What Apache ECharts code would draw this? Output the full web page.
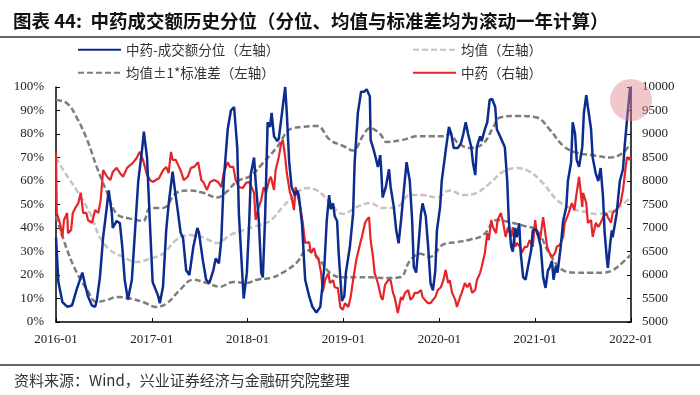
<!DOCTYPE html>
<html><head><meta charset="utf-8">
<script src="https://cdn.jsdelivr.net/npm/echarts@6/dist/echarts.min.js"></script>
<style>html,body{margin:0;padding:0;background:#fff}#c{width:700px;height:395px}</style>
</head><body><div id="c"></div>
<script>
// x values are months since 2016-01
const xTickLabels = ['2016-01','2017-01','2018-01','2019-01','2020-01','2021-01','2022-01'];
const seriesNames = ['中药-成交额分位（左轴）','均值（左轴）','均值±1*标准差（左轴）','中药（右轴）'];

const pctData = [[0,36],[0.3,17],[0.8,8.5],[1.4,6.5],[2.0,7],[2.6,14],[3.3,21],[3.6,16.5],[4.0,11],[4.5,7],[4.9,6.5],[5.1,9],[5.5,19],[5.9,36],[6.4,50],[6.6,56],[7.0,46],[7.1,40],[7.6,43],[8.0,42],[8.3,32],[8.6,18],[9.0,9.5],[9.5,18],[9.9,39],[10.3,60],[10.8,74],[11.0,81],[11.4,70],[11.8,39],[12.1,17],[12.8,11],[13.0,8],[13.4,15],[13.8,39],[14.1,50],[14.6,64],[14.9,56],[15.3,46],[15.6,38],[15.9,36],[16.3,22],[16.7,20],[17.2,32],[17.7,40],[17.9,38],[18.4,26],[18.8,18],[19.2,16.5],[19.7,22],[20.0,27],[20.4,25],[20.7,35],[21.0,60],[21.5,82],[21.9,90],[22.3,91.5],[22.7,74],[22.9,46],[23.5,10],[23.9,21],[24.2,43],[24.4,63],[24.8,70],[25.0,60],[25.4,43],[25.7,21],[25.9,19],[26.2,46],[26.5,85],[26.8,83],[27.0,89],[27.3,79],[27.7,77],[27.9,78],[28.3,89],[28.7,100],[28.9,89],[29.2,68],[29.5,57.5],[29.9,54],[30.2,56],[30.4,54],[30.8,42],[31.2,18],[31.7,11],[32.1,6.5],[32.6,4],[33.1,6.5],[33.6,23.5],[33.9,43],[34.2,54],[34.4,48],[34.7,50.5],[34.9,45],[35.2,43],[35.4,29],[35.8,9],[36.1,11],[36.3,21],[36.8,32],[37.2,46],[37.4,68],[37.8,89],[38.2,98],[38.6,98],[38.9,99],[39.3,96],[39.4,77.5],[39.8,73],[40.1,69],[40.3,66],[40.6,71],[40.7,66],[40.9,53],[41.3,57.5],[41.7,65],[41.9,57.5],[42.3,49],[42.6,39],[42.9,33.5],[43.2,43],[43.6,57.5],[43.9,68],[44.3,60],[44.6,43],[44.8,23.5],[45.1,21],[45.3,29],[45.7,46],[45.9,50.5],[46.3,45],[46.6,32],[46.9,16.5],[47.2,13.5],[47.5,22],[47.7,39],[48.1,49],[48.3,60],[48.8,73],[49.2,83],[49.5,80],[49.8,74],[50.3,74],[50.7,76],[51.0,80],[51.3,85],[51.6,80],[52.0,74.5],[52.2,68],[52.5,62.5],[52.7,74.5],[53.1,79],[53.3,77],[53.7,82],[54.0,85],[54.3,94.5],[54.6,95],[55.0,91.5],[55.2,82],[55.6,79],[55.8,77.5],[56.2,74.5],[56.5,60],[56.7,43],[57.0,32],[57.2,30],[57.5,40],[57.7,36],[58.0,42],[58.2,29],[58.5,19],[58.8,18],[59.1,23.5],[59.5,30.5],[59.7,39],[60.1,39.5],[60.3,38],[60.7,32],[61.0,19],[61.3,14.5],[61.6,22],[61.8,23],[62.1,26],[62.3,18],[62.6,24],[62.8,21],[63.2,32],[63.5,43],[63.9,49],[64.1,60],[64.5,68],[64.7,85],[65.0,80],[65.2,69],[65.5,66],[65.9,74.5],[66.1,89],[66.4,96.5],[66.6,91.5],[67.0,82],[67.2,70],[67.6,63],[67.9,60],[68.2,65.5],[68.5,53],[68.7,38],[69.0,26],[69.1,23],[69.4,33.5],[69.6,39],[69.7,36],[70.0,42],[70.2,46],[70.6,60],[71.0,65],[71.2,74.5],[71.5,86],[71.9,100]];

const meanData = [[0,70],[0.9,64.7],[2.6,56],[4.3,46],[5.5,36],[6.8,30.6],[8.4,27.7],[10.1,25.5],[11.8,27],[13.4,29],[15.1,35],[16.8,37],[18.4,36],[20.2,33.6],[21.8,37],[23.4,39],[25.2,41],[26.8,43],[28.4,49],[30.2,55],[31.4,57],[32.7,56],[34.3,51],[35.9,46],[37.7,49],[39.3,50.6],[40.9,48.5],[42.7,49],[44.3,54],[45.9,54],[47.7,53],[49.3,56],[51.0,54],[52.7,55],[54.3,59],[56.0,64],[57.7,65.5],[59.3,64],[61.0,59],[62.7,52],[64.4,48.5],[66.0,47],[67.7,46],[69.4,47],[70.6,49],[71.9,53]];

const upperData = [[0,94.5],[1.4,93],[2.6,87],[3.9,77.5],[5.1,66],[6.4,55],[7.6,46],[9.3,44],[10.9,43],[11.8,48.5],[13.4,48.5],[15.1,55],[16.8,56],[18.4,55],[20.2,53],[21.4,55.5],[22.7,60],[24.3,62],[25.9,67.6],[27.7,74.5],[29.3,82],[30.9,83],[32.7,83.4],[34.3,77.5],[35.9,75],[37.2,73],[38.4,79],[39.3,82.5],[40.6,80],[41.4,76.6],[43.4,77.5],[45.2,79],[46.8,79],[48.5,79],[49.3,80],[50.2,76.6],[51.8,74],[53.5,76],[54.7,82.5],[55.6,87],[57.7,87.7],[60.2,87],[61.8,82],[63.5,75],[65.2,72],[67.2,71],[69.4,70],[71.0,72],[71.9,76]];

const lowerData = [[0,45],[1.4,30.6],[2.6,21],[3.9,13.6],[5.1,8.5],[6.4,9.4],[7.6,10.6],[9.3,10],[10.9,8.5],[12.6,6.4],[13.9,8],[15.5,13.6],[17.2,18],[18.9,16.6],[20.5,15],[22.2,17],[23.9,16.6],[25.2,18],[26.8,18.7],[28.4,21],[30.2,25.5],[31.4,30.6],[32.7,27.7],[34.3,21],[35.9,19],[37.7,19],[39.3,19],[41.4,18.7],[43.1,19],[44.3,26],[45.6,29],[46.8,27.7],[48.5,33],[50.2,34],[51.8,35],[53.5,37],[55.2,43.4],[56.8,42.5],[58.5,41],[60.2,39],[61.8,29],[63.5,22],[65.2,21],[66.9,21],[68.5,21],[69.7,22],[71.0,25.5],[71.9,28.5]];

const priceData = [[0,8600],[0.1,7320],[0.5,7100],[0.8,6810],[1.0,7170],[1.4,7320],[1.5,6890],[1.9,6960],[2.1,7320],[2.5,7450],[2.8,7530],[3.1,7750],[3.4,7320],[3.8,7320],[4.0,7170],[4.5,7110],[4.9,7380],[5.3,7320],[5.6,7600],[5.9,8230],[6.4,8090],[6.8,8020],[7.1,8190],[7.6,8280],[8.0,8170],[8.4,8090],[8.9,8280],[9.3,8340],[9.6,8380],[10.1,8490],[10.5,8620],[10.9,8450],[11.4,8130],[11.8,8020],[12.1,7980],[12.5,8020],[12.9,8060],[13.4,8230],[13.8,8300],[14.1,8170],[14.4,8620],[14.6,8450],[15.0,8450],[15.4,8300],[15.6,8230],[16.0,8020],[16.5,8090],[16.9,8280],[17.3,8300],[17.8,8400],[18.2,8020],[18.5,7960],[18.9,7810],[19.3,7980],[19.8,8020],[20.3,7980],[20.7,7870],[21.0,8170],[21.5,8400],[21.8,8300],[22.2,8300],[22.5,8020],[22.9,7870],[23.4,7850],[23.8,7960],[24.2,7980],[24.4,8020],[24.8,7750],[25.0,7170],[25.4,7450],[25.7,7600],[26.0,7870],[26.3,7750],[26.7,8020],[26.9,8090],[27.3,7810],[27.5,8230],[27.9,8510],[28.2,8810],[28.4,8870],[28.7,8510],[28.9,8170],[29.3,7750],[29.5,7660],[29.8,7380],[30.0,7870],[30.3,7660],[30.5,7530],[30.9,7110],[31.2,6680],[31.7,6700],[31.9,6470],[32.3,6570],[32.6,6380],[32.9,6320],[33.2,6040],[33.4,5640],[33.7,5890],[34.1,6040],[34.3,5830],[34.7,5890],[34.9,5740],[35.3,5720],[35.6,5320],[35.9,5260],[36.2,5400],[36.6,5320],[36.9,5530],[37.2,5890],[37.6,6320],[38.1,6680],[38.3,6810],[38.7,7110],[38.9,7170],[39.2,7230],[39.4,6740],[39.7,6380],[39.9,6040],[40.3,5830],[40.7,5530],[40.9,5470],[41.2,5790],[41.6,5890],[41.9,5890],[42.2,5620],[42.4,5530],[42.8,5190],[43.2,5530],[43.4,5470],[43.7,5620],[44.1,5680],[44.4,5470],[44.7,5530],[44.9,5620],[45.3,5620],[45.7,5680],[45.9,5530],[46.2,5470],[46.6,5400],[46.9,5400],[47.2,5470],[47.5,5530],[47.8,5680],[48.2,5740],[48.5,5890],[48.8,6110],[49.1,5830],[49.3,5890],[49.6,5620],[50.0,5470],[50.2,5320],[50.6,5530],[50.8,5620],[51.2,5830],[51.5,5740],[51.8,5830],[52.1,5620],[52.5,5680],[52.7,5890],[53.1,6040],[53.3,6170],[53.7,6470],[54.0,6890],[54.2,6740],[54.5,7170],[54.7,7020],[55.1,6890],[55.3,7170],[55.7,7320],[56.0,7110],[56.3,6810],[56.6,7020],[57.0,6810],[57.2,7020],[57.5,6600],[57.7,6680],[58.1,6600],[58.3,6470],[58.7,6600],[59.0,6600],[59.3,6740],[59.7,6600],[60.0,7170],[60.2,6890],[60.6,6740],[61.0,7230],[61.2,7230],[61.5,6600],[61.8,6470],[62.1,6380],[62.5,6470],[62.7,6600],[63.1,6640],[63.5,6810],[63.7,7110],[64.0,7230],[64.2,7320],[64.6,7530],[64.9,7380],[65.2,7750],[65.5,8090],[65.9,7450],[66.0,7750],[66.4,7530],[66.6,7110],[67.0,7170],[67.2,6810],[67.6,7110],[67.9,7020],[68.2,7110],[68.5,7230],[68.9,7320],[69.1,7230],[69.5,7110],[69.7,7320],[70.1,7380],[70.4,7450],[70.7,7530],[71.0,7810],[71.4,8380],[71.5,8510],[71.8,8450],[72.0,8510]];

const chart = echarts.init(document.getElementById('c'), null, {renderer:'canvas'});
const serif = '"Liberation Serif","DejaVu Serif",serif';
const cjk = '"Noto Sans CJK SC","Noto Sans",sans-serif';
const axisLabelStyle = {color:'#222', fontFamily:serif, fontSize:13};
const legendText = {color:'#333', fontFamily:cjk, fontSize:13.5};
const C = {blue:'#0c2d8e', light:'#c4c4c4', dark:'#7d7d7d', red:'#e4262a'};
const mk = (i,l,t)=>({data:[seriesNames[i]], left:l, top:t, itemWidth:43, itemHeight:12,
  textStyle:legendText, padding:0, itemGap:4, itemStyle:{opacity:0}});

chart.setOption({
  animation:false,
  title:{text:'图表 44:  中药成交额历史分位（分位、均值与标准差均为滚动一年计算）', left:8, top:7,
    textStyle:{fontFamily:cjk, fontSize:18.5, fontWeight:'bold', color:'#111'}},
  legend:[mk(0,77,43), mk(1,412,43), mk(2,77,66), mk(3,412,66)],
  grid:{left:56, right:69, top:87, bottom:73},
  xAxis:{type:'value', min:0, max:72, interval:12,
    axisLine:{lineStyle:{color:'#000', width:1.5}},
    axisTick:{inside:true, length:4, lineStyle:{color:'#000'}},
    splitLine:{show:false},
    axisLabel:Object.assign({margin:11, formatter:v=>xTickLabels[Math.round(v/12)]}, axisLabelStyle)},
  yAxis:[
    {type:'value', min:0, max:100, interval:10, position:'left',
     axisLine:{show:true, lineStyle:{color:'#000', width:1.5}},
     axisTick:{show:true, inside:true, length:4, lineStyle:{color:'#000'}},
     splitLine:{show:false},
     axisLabel:Object.assign({formatter:'{value}%', margin:12}, axisLabelStyle)},
    {type:'value', min:5000, max:10000, interval:500, position:'right',
     axisLine:{show:true, lineStyle:{color:'#000', width:1.5}},
     axisTick:{show:true, inside:true, length:4, lineStyle:{color:'#000'}},
     splitLine:{show:false},
     axisLabel:Object.assign({margin:11, formatter:v=>String(v)}, axisLabelStyle)}
  ],
  series:[
    {name:seriesNames[2], type:'line', data:upperData, symbol:'none', smooth:0.4, z:2,
      lineStyle:{color:C.dark, width:2.5, type:[6,3]}, itemStyle:{color:C.dark}},
    {name:seriesNames[2], type:'line', data:lowerData, symbol:'none', smooth:0.4, z:2,
      lineStyle:{color:C.dark, width:2.5, type:[6,3]}, itemStyle:{color:C.dark}},
    {name:seriesNames[1], type:'line', data:meanData, symbol:'none', smooth:0.4, z:2,
      lineStyle:{color:C.light, width:2.5, type:[6,3]}, itemStyle:{color:C.light}},
    {name:seriesNames[3], type:'line', yAxisIndex:1, data:priceData, symbol:'none', z:3,
      lineStyle:{color:C.red, width:2.2}, itemStyle:{color:C.red}},
    {name:seriesNames[0], type:'line', data:pctData, symbol:'none', z:4,
      lineStyle:{color:C.blue, width:2.5}, itemStyle:{color:C.blue}}
  ],
  graphic:[
    {type:'line', shape:{x1:0,y1:37,x2:700,y2:37}, style:{stroke:'#333', lineWidth:1.5}},
    {type:'line', shape:{x1:0,y1:365,x2:700,y2:365}, style:{stroke:'#333', lineWidth:1.5}},
    {type:'text', left:14, top:373, style:{text:'资料来源：Wind，兴业证券经济与金融研究院整理', font:'15px '+cjk, fill:'#333'}},
    {type:'circle', shape:{cx:631, cy:100, r:21}, style:{fill:'rgba(225,130,140,0.45)'}, z:100}
  ]
});
</script></body></html>
